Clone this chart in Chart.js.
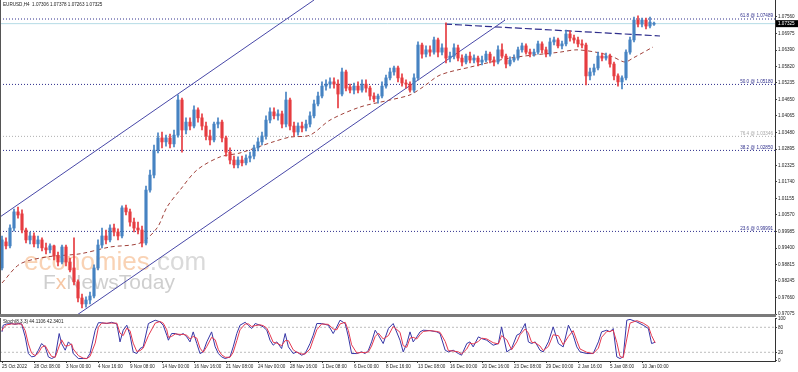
<!DOCTYPE html>
<html>
<head>
<meta charset="utf-8">
<script src="https://cdn.jsdelivr.net/npm/chart.js@4.4.0/dist/chart.umd.min.js"></script>
<style>
  html, body { margin: 0; padding: 0; background: #fff; }
  #wrap { position: relative; width: 798px; height: 372px; overflow: hidden; }
  canvas { position: absolute; left: 0; }
  #main { top: 0; }
  #stoch { top: 316px; }
</style>
</head>
<body>
<div id="wrap">
  <canvas id="main" width="798" height="320"></canvas>
  <canvas id="stoch" width="798" height="56"></canvas>
</div>
<script>
// EURUSD H4 candles
const opens = [
  0.9870,0.9962,0.9948,1.0011,1.0068,1.0061,1.0004,0.9969,0.9983,0.9955,
  0.9969,0.9941,0.9934,0.9948,0.9912,0.9891,0.9944,0.9891,0.9870,0.9821,
  0.9764,0.9743,0.9757,0.9771,0.9870,0.9951,0.9983,0.9969,1.0011,0.9997,
  0.9983,1.0082,1.0068,1.0032,1.0011,1.0004,0.9958,1.0145,1.0198,1.0286,
  1.0329,1.0315,1.0329,1.0308,1.0339,1.0463,1.0357,1.0385,1.0371,1.0428,
  1.0400,1.0371,1.0336,1.0322,1.0378,1.0385,1.0329,1.0279,1.0251,1.0234,
  1.0251,1.0241,1.0258,1.0265,1.0294,1.0315,1.0336,1.0392,1.0421,1.0407,
  1.0414,1.0378,1.0463,1.0371,1.0350,1.0371,1.0364,1.0378,1.0407,1.0449,
  1.0477,1.0512,1.0519,1.0527,1.0519,1.0484,1.0562,1.0509,1.0498,1.0512,
  1.0498,1.0519,1.0505,1.0477,1.0467,1.0477,1.0512,1.0541,1.0562,1.0576,
  1.0541,1.0523,1.0519,1.0498,1.0541,1.0657,1.0625,1.0640,1.0632,1.0675,
  1.0632,1.0647,1.0611,1.0618,1.0647,1.0611,1.0597,1.0618,1.0604,1.0611,
  1.0597,1.0604,1.0625,1.0604,1.0597,1.0640,1.0618,1.0590,1.0604,1.0611,
  1.0640,1.0654,1.0632,1.0625,1.0632,1.0661,1.0640,1.0625,1.0668,1.0675,
  1.0654,1.0661,1.0696,1.0682,1.0675,1.0661,1.0657,1.0548,1.0562,1.0576,
  1.0618,1.0611,1.0618,1.0590,1.0548,1.0527,1.0541,1.0632,1.0675,1.0745,
  1.0731,1.0745,1.0724,1.07306
];
const highs = [
  0.9983,0.9976,1.0022,1.0078,1.0085,1.0075,1.0011,0.9997,0.9994,0.9983,
  0.9976,0.9958,0.9955,0.9951,0.9926,0.9951,0.9951,0.9905,0.9976,0.9828,
  0.9778,0.9768,0.9785,0.9881,0.9969,1.0011,1.0004,1.0022,1.0025,1.0008,
  1.0089,1.0092,1.0078,1.0046,1.0032,1.0018,1.0159,1.0216,1.0304,1.0347,
  1.0350,1.0339,1.0343,1.0357,1.0481,1.0470,1.0400,1.0400,1.0442,1.0435,
  1.0414,1.0385,1.0357,1.0385,1.0400,1.0392,1.0336,1.0294,1.0265,1.0262,
  1.0265,1.0269,1.0279,1.0304,1.0329,1.0350,1.0407,1.0435,1.0435,1.0428,
  1.0424,1.0491,1.0470,1.0385,1.0382,1.0385,1.0392,1.0421,1.0463,1.0491,
  1.0527,1.0534,1.0541,1.0541,1.0534,1.0576,1.0569,1.0519,1.0523,1.0527,
  1.0534,1.0534,1.0512,1.0488,1.0484,1.0527,1.0551,1.0576,1.0583,1.0583,
  1.0555,1.0534,1.0527,1.0555,1.0668,1.0664,1.0654,1.0654,1.0685,1.0682,
  1.0661,1.0735,1.0632,1.0661,1.0657,1.0622,1.0625,1.0632,1.0622,1.0618,
  1.0618,1.0636,1.0632,1.0615,1.0654,1.0661,1.0625,1.0615,1.0622,1.0650,
  1.0664,1.0661,1.0643,1.0643,1.0671,1.0668,1.0650,1.0682,1.0685,1.0682,
  1.0671,1.0710,1.0707,1.0692,1.0685,1.0675,1.0664,1.0576,1.0590,1.0632,
  1.0629,1.0629,1.0625,1.0597,1.0555,1.0548,1.0640,1.0685,1.0756,1.0760,
  1.0752,1.0752,1.0756,1.07378
];
const lows = [
  0.9863,0.9937,0.9941,1.0001,1.0046,0.9994,0.9958,0.9955,0.9944,0.9941,
  0.9930,0.9920,0.9923,0.9898,0.9877,0.9884,0.9877,0.9856,0.9810,0.9750,
  0.9729,0.9732,0.9743,0.9764,0.9863,0.9941,0.9955,0.9962,0.9983,0.9969,
  0.9976,1.0057,1.0018,0.9997,0.9990,0.9944,0.9951,1.0138,1.0188,1.0276,
  1.0294,1.0300,1.0294,1.0297,1.0332,1.0279,1.0343,1.0357,1.0364,1.0385,
  1.0357,1.0322,1.0304,1.0315,1.0364,1.0315,1.0265,1.0237,1.0223,1.0223,
  1.0230,1.0234,1.0244,1.0255,1.0283,1.0304,1.0325,1.0382,1.0396,1.0392,
  1.0364,1.0368,1.0357,1.0336,1.0339,1.0350,1.0354,1.0368,1.0400,1.0442,
  1.0470,1.0498,1.0505,1.0505,1.0435,1.0477,1.0495,1.0488,1.0484,1.0488,
  1.0491,1.0491,1.0463,1.0456,1.0452,1.0470,1.0505,1.0534,1.0551,1.0527,
  1.0512,1.0505,1.0491,1.0491,1.0534,1.0611,1.0615,1.0618,1.0625,1.0615,
  1.0622,1.0594,1.0597,1.0608,1.0601,1.0583,1.0590,1.0594,1.0594,1.0583,
  1.0587,1.0597,1.0594,1.0583,1.0590,1.0611,1.0576,1.0583,1.0597,1.0604,
  1.0632,1.0625,1.0615,1.0618,1.0625,1.0629,1.0615,1.0618,1.0657,1.0647,
  1.0643,1.0654,1.0671,1.0664,1.0650,1.0647,1.0516,1.0534,1.0551,1.0569,
  1.0601,1.0604,1.0579,1.0534,1.0512,1.0502,1.0534,1.0625,1.0668,1.0721,
  1.0721,1.0714,1.0717,1.07263
];
const closes = [
  0.9969,0.9948,1.0011,1.0068,1.0057,1.0004,0.9969,0.9983,0.9955,0.9969,
  0.9941,0.9934,0.9948,0.9912,0.9891,0.9944,0.9891,0.9863,0.9821,0.9764,
  0.9743,0.9757,0.9771,0.9870,0.9951,0.9983,0.9969,1.0011,0.9997,0.9983,
  1.0082,1.0068,1.0032,1.0011,1.0004,0.9958,1.0145,1.0198,1.0286,1.0329,
  1.0315,1.0329,1.0308,1.0339,1.0463,1.0357,1.0385,1.0371,1.0428,1.0400,
  1.0371,1.0336,1.0322,1.0378,1.0385,1.0329,1.0279,1.0251,1.0234,1.0251,
  1.0241,1.0258,1.0265,1.0294,1.0315,1.0336,1.0392,1.0421,1.0407,1.0414,
  1.0378,1.0463,1.0371,1.0350,1.0371,1.0364,1.0378,1.0407,1.0449,1.0477,
  1.0512,1.0519,1.0527,1.0519,1.0484,1.0562,1.0505,1.0498,1.0512,1.0498,
  1.0519,1.0505,1.0477,1.0467,1.0477,1.0512,1.0541,1.0562,1.0576,1.0541,
  1.0523,1.0519,1.0498,1.0541,1.0657,1.0625,1.0640,1.0632,1.0675,1.0632,
  1.0647,1.0611,1.0618,1.0647,1.0611,1.0597,1.0618,1.0604,1.0611,1.0597,
  1.0604,1.0625,1.0604,1.0597,1.0640,1.0618,1.0590,1.0604,1.0611,1.0640,
  1.0654,1.0632,1.0625,1.0632,1.0661,1.0640,1.0625,1.0668,1.0675,1.0654,
  1.0661,1.0696,1.0682,1.0675,1.0661,1.0657,1.0548,1.0562,1.0576,1.0618,
  1.0611,1.0618,1.0590,1.0548,1.0527,1.0541,1.0632,1.0675,1.0745,1.0731,
  1.0745,1.0724,1.0738,1.07325
];

// moving average (dashed brown), bar index -> price
const maIdx = [0,4.5,11.25,19.5,27,34.5,38.75,41.25,44.5,48.75,54.5,59.5,67.75,72,77,82,89.5,97,102,105.25,109.5,117,127,139.5,143.75,149.5,152.75,155.75,157.75,162.75];
const maVal = [0.9817,0.9884,0.9909,0.9920,0.9944,0.9958,1.0011,1.0085,1.0145,1.0216,1.0262,1.0276,1.0315,1.0332,1.0339,1.0392,1.0438,1.0463,1.0481,1.0509,1.0551,1.0579,1.0611,1.0632,1.0640,1.0629,1.0615,1.0597,1.0611,1.0650];

// hand drawn objects
const channelUpper = [[-0.5, 1.0050], [78, 1.0816]];
const channelLower = [[18.75, 0.9704], [125.75, 1.0745]];
const trendLine = [[110.75, 1.0731], [164.5, 1.0689]];
const fibNames = ['61.8', '50.0', '76.4', '38.2', '23.6'];
const fibValues = [1.07489, 1.05180, 1.03346, 1.02850, 0.99991];

// Stochastic(8,3,3)
const stochIdx = [0,0.3,1.2,2.4,3.3,4.1,4.9,5.8,6.6,7.4,8.3,9.1,9.9,10.8,11.6,12.4,13.3,14.3,14.9,15.8,16.6,17.4,17.8,19.1,20.3,21.2,22,23.3,24.1,24.9,26.2,27.4,28.7,29.5,30.3,31.2,32,32.8,33.7,34.5,35.3,36.6,38.3,39.5,40.3,41.2,41.6,42.4,43.3,44.5,45.3,46.2,47,47.8,48.7,49.5,50.3,51.2,52.4,53.3,54.1,54.9,55.8,57,57.8,58.7,59.5,60.8,61.6,62.4,63.3,64.5,65.3,66.2,67,67.8,68.7,69.9,70.8,71.6,72.8,73.7,74.9,75.8,77,77.8,78.7,79.9,81.6,82.8,83.7,84.5,85.8,86.6,87.4,88.7,89.9,90.8,91.6,92.4,93.3,94.1,95.3,96.6,97.8,99.5,100.3,101.2,102,102.8,103.7,104.5,105.3,107,108.7,109.5,110.8,111.6,112.8,114.1,114.9,116.2,117,117.8,119.1,119.9,121.2,122.8,124.1,124.9,126.2,127.4,128.7,129.5,130.8,131.6,132.4,133.3,134.5,135.3,136.6,137.8,139.1,140.3,141.6,142.8,143.7,144.5,146.2,147.8,149.1,149.9,151.2,152,152.8,153.7,154.5,155.3,156.2,157,158.7,160.3,161.6,162.4,163.3];
const stochK = [69,85,88,89,87,89,88,57,17,9,11,25,41,33,9,5,9,65,41,25,45,37,17,5,5,5,17,73,91,91,89,92,88,45,73,85,61,21,17,29,33,89,97,93,85,61,49,65,65,61,65,57,45,69,41,17,21,45,69,33,17,9,5,9,33,65,85,92,85,77,89,85,81,73,49,37,45,29,65,33,17,21,13,17,41,61,89,89,85,65,81,97,89,57,17,17,21,17,25,45,73,61,41,77,89,49,21,41,69,45,57,69,73,72,69,65,25,21,25,17,13,41,45,33,57,53,49,37,41,81,21,29,61,65,89,45,41,45,25,21,45,81,41,33,85,61,33,21,17,17,45,69,73,69,77,9,5,9,97,99,93,85,77,41,44.1106];
const stochD = [72,78,86,88,88,88,88,72,40,18,12,18,32,36,22,10,8,35,50,35,36,40,28,12,6,5,10,42,80,90,90,90,90,66,60,78,72,42,22,24,30,60,90,94,90,74,56,58,64,63,63,61,52,58,54,30,20,34,56,50,26,14,8,8,20,48,74,88,88,82,84,86,84,78,62,44,42,36,48,48,26,20,16,16,28,50,74,88,87,76,74,88,92,72,38,18,20,19,21,35,58,66,52,60,82,68,36,32,54,56,52,62,70,72,70,68,46,24,23,21,16,28,42,40,46,54,52,43,40,60,50,26,45,62,76,66,44,43,35,24,34,62,60,38,58,72,48,28,20,17,30,56,70,70,73,44,10,7,52,90,96,90,82,60,42.3401];
const stochLevels = [20, 80];

// axes
const yTicks = [1.07560,1.06975,1.06390,1.05820,1.05235,1.04650,1.04065,1.03480,1.02895,1.02325,1.01740,1.01155,1.00570,0.99985,0.99400,0.98815,0.98245,0.97660,0.97075];
const stochTicks = [0, 20, 80, 100];
const xTickIdx = [0,8,16,24,32,40,48,56,64,72,80,88,96,104,112,120,128,136,144,152,160];
const xLabels = ['25 Oct 2022','28 Oct 08:00','3 Nov 00:00','4 Nov 16:00','9 Nov 08:00','14 Nov 00:00','16 Nov 16:00','21 Nov 08:00','24 Nov 00:00','28 Nov 16:00','1 Dec 08:00','6 Dec 00:00','8 Dec 16:00','13 Dec 08:00','16 Dec 00:00','20 Dec 16:00','23 Dec 08:00','29 Dec 00:00','2 Jan 16:00','5 Jan 08:00','10 Jan 00:00'];

const X_MIN = -0.5, X_MAX = 193.25;
const UP = '#4683c2', DN = '#e63c40';
const NAVY = '#2e2e8c';
const FONT = 'Liberation Sans';
const small = { family: FONT, size: 4.6 };
const last = closes.length - 1;

function seg(points, color, dash, width) {
    return {
        type: 'line',
        data: points.map(p => ({ x: p[0], y: p[1] })),
        borderColor: color,
        borderWidth: width || 1,
        borderDash: dash || [],
        pointRadius: 0,
        tension: 0,
        fill: false
    };
}

const candleColors = closes.map((c, i) => c >= opens[i] ? UP : DN);

const mainDatasets = [
    {
        type: 'bar',
        data: opens.map((o, i) => ({ x: i, y: [o, closes[i]] })),
        backgroundColor: candleColors,
        barThickness: 2.5,
        minBarLength: 1,
        grouped: false
    },
    {
        type: 'bar',
        data: lows.map((l, i) => ({ x: i, y: [l, highs[i]] })),
        backgroundColor: candleColors,
        barThickness: 1,
        grouped: false
    },
    {
        type: 'line',
        data: maIdx.map((x, i) => ({ x: x, y: maVal[i] })),
        borderColor: '#a0413a',
        borderWidth: 1,
        borderDash: [4, 3],
        pointRadius: 0,
        tension: 0.3,
        fill: false
    },
    seg(channelUpper, '#4848a8'),
    seg(channelLower, '#4848a8'),
    seg(trendLine, NAVY, [7, 3], 1.2),
    seg([[X_MIN, closes[last]], [X_MAX, closes[last]]], '#b5dce6')
];
fibValues.forEach((v, i) => {
    mainDatasets.push(seg([[X_MIN, v], [X_MAX, v]], fibNames[i] === '76.4' ? '#b0b0b0' : NAVY, [1, 2]));
});

const mainDecor = {
    id: 'mainDecor',
    beforeDatasetsDraw(chart) {
        const ctx = chart.ctx;
        ctx.save();
        ctx.textBaseline = 'alphabetic';
        ctx.font = '26px ' + FONT;
        ctx.fillStyle = '#f9d2b4';
        ctx.fillText('economies', 24, 270);
        let w = ctx.measureText('economies').width;
        ctx.fillStyle = '#dadada';
        ctx.fillText('.com', 24 + w, 270);
        ctx.font = '21px ' + FONT;
        ctx.fillStyle = '#cfcfcf';
        ctx.fillText('F', 43, 289);
        w = ctx.measureText('F').width;
        ctx.fillStyle = '#f6c6a4';
        ctx.fillText('x', 43 + w, 289);
        const w2 = ctx.measureText('x').width;
        ctx.fillStyle = '#cfcfcf';
        ctx.fillText('NewsToday', 43 + w + w2, 289);
        ctx.restore();
    },
    afterDraw(chart) {
        const ctx = chart.ctx;
        const y = chart.scales.y;
        const a = chart.chartArea;
        ctx.save();
        // frame
        ctx.fillStyle = '#555';
        ctx.fillRect(0, a.top, 1, a.bottom - a.top);
        ctx.fillStyle = '#7a7a7a';
        ctx.fillRect(0, a.bottom, a.right + 1, 2);
        // fibo labels
        ctx.font = '4.6px ' + FONT;
        ctx.textAlign = 'right';
        ctx.textBaseline = 'bottom';
        fibValues.forEach((v, i) => {
            ctx.fillStyle = fibNames[i] === '76.4' ? '#a8a8a8' : NAVY;
            ctx.fillText(fibNames[i] + ' @ ' + v.toFixed(5), a.right - 2, y.getPixelForValue(v) - 0.5);
        });
        // title
        ctx.textAlign = 'left';
        ctx.textBaseline = 'middle';
        ctx.fillStyle = '#222';
        ctx.fillText('EURUSD,H4  ' + opens[last].toFixed(5) + ' ' + highs[last].toFixed(5) + ' ' + lows[last].toFixed(5) + ' ' + closes[last].toFixed(5), 3, 5);
        // current price box
        const py = y.getPixelForValue(closes[last]);
        ctx.fillStyle = '#000';
        ctx.fillRect(a.right + 1, py - 3.5, 22, 7);
        ctx.fillStyle = '#fff';
        ctx.fillText(closes[last].toFixed(5), a.right + 3, py);
        ctx.restore();
    }
};

new Chart(document.getElementById('main').getContext('2d'), {
    data: { datasets: mainDatasets },
    options: {
        responsive: false,
        animation: false,
        events: [],
        layout: { padding: { top: 0, left: 0, right: 0, bottom: 6 } },
        plugins: { legend: { display: false }, tooltip: { enabled: false } },
        scales: {
            x: { type: 'linear', min: X_MIN, max: X_MAX, offset: false, display: false },
            y: {
                position: 'right',
                min: 0.97075,
                max: 1.0816,
                afterBuildTicks: s => { s.ticks = yTicks.map(v => ({ value: v })); },
                afterFit: s => { s.width = 23; s.paddingTop = 0; s.paddingBottom = 0; },
                ticks: { callback: v => v.toFixed(5), font: small, color: '#222', padding: 1, autoSkip: false },
                grid: { drawOnChartArea: false, tickLength: 2, color: '#444' },
                border: { color: '#333', width: 1 }
            }
        }
    },
    plugins: [mainDecor]
});

const stochDecor = {
    id: 'stochDecor',
    afterDraw(chart) {
        const ctx = chart.ctx;
        const a = chart.chartArea;
        ctx.save();
        ctx.fillStyle = '#7a7a7a';
        ctx.fillRect(0, 0, a.right + 1, 1);
        ctx.fillStyle = '#555';
        ctx.fillRect(0, a.top, 1, a.bottom - a.top);
        ctx.font = '4.6px ' + FONT;
        ctx.textBaseline = 'middle';
        ctx.fillStyle = '#222';
        ctx.fillText('Stoch(8,3,3) ' + stochK[stochK.length - 1].toFixed(4) + ' ' + stochD[stochD.length - 1].toFixed(4), 3, 6);
        ctx.restore();
    }
};

const stochDatasets = [
    {
        type: 'line',
        data: stochIdx.map((x, i) => ({ x: x, y: stochD[i] })),
        borderColor: '#e53950',
        borderWidth: 1,
        pointRadius: 0,
        tension: 0
    },
    {
        type: 'line',
        data: stochIdx.map((x, i) => ({ x: x, y: stochK[i] })),
        borderColor: '#3636a6',
        borderWidth: 1,
        pointRadius: 0,
        tension: 0
    }
];
stochLevels.forEach(v => {
    stochDatasets.push(seg([[X_MIN, v], [X_MAX, v]], '#bdbdbd', [2, 2]));
});

new Chart(document.getElementById('stoch').getContext('2d'), {
    data: { datasets: stochDatasets },
    options: {
        responsive: false,
        animation: false,
        events: [],
        layout: { padding: { top: 2, left: 0, right: 0, bottom: 0 } },
        plugins: { legend: { display: false }, tooltip: { enabled: false } },
        scales: {
            x: {
                type: 'linear',
                min: X_MIN,
                max: X_MAX,
                afterBuildTicks: s => { s.ticks = xTickIdx.map(v => ({ value: v })); },
                afterFit: s => { s.height = 11; s.paddingLeft = 0; s.paddingRight = 0; },
                ticks: { callback: (v, i) => xLabels[i], align: 'start', maxRotation: 0, autoSkip: false, font: small, color: '#222', padding: 1 },
                grid: { drawOnChartArea: false, tickLength: 2, color: '#444' },
                border: { color: '#333', width: 1 }
            },
            y: {
                position: 'right',
                min: -0.9,
                max: 102.3,
                afterBuildTicks: s => { s.ticks = stochTicks.map(v => ({ value: v })); },
                afterFit: s => { s.width = 23; s.paddingTop = 0; s.paddingBottom = 0; },
                ticks: { callback: v => String(v), font: small, color: '#222', padding: 1, autoSkip: false },
                grid: { drawOnChartArea: false, tickLength: 2, color: '#444' },
                border: { color: '#333', width: 1 }
            }
        }
    },
    plugins: [stochDecor]
});
</script>
</body>
</html>
